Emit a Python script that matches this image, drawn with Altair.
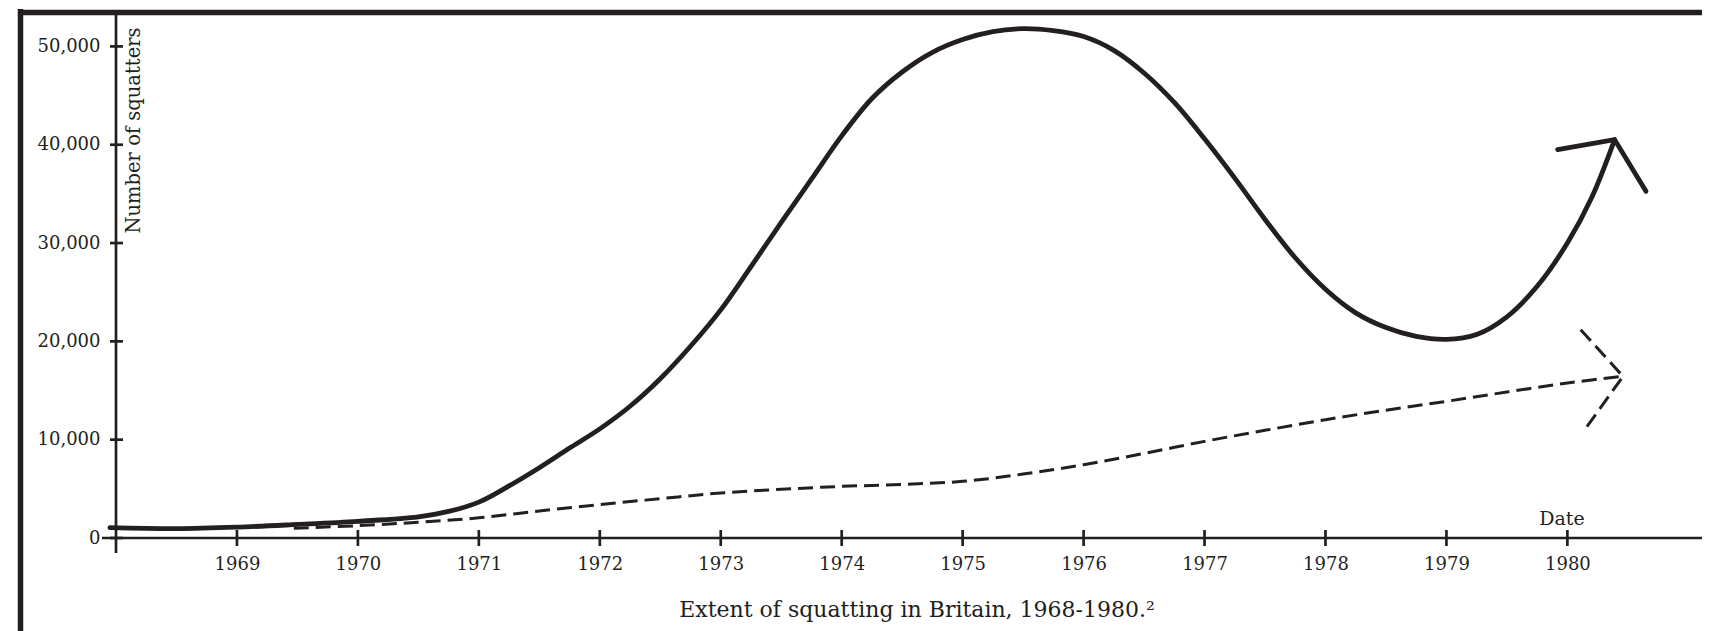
import altair as alt
import pandas as pd

# ---- data ----
solid_year = [1967.95, 1968.5, 1969.0, 1969.5, 1970.0, 1970.5, 1970.75, 1971.0, 1971.25, 1971.5,
              1971.75, 1972.0, 1972.25, 1972.5, 1972.75, 1973.0, 1973.25, 1973.5, 1973.75, 1974.0,
              1974.25, 1974.5, 1974.75, 1975.0, 1975.25, 1975.5, 1975.75, 1976.0, 1976.25, 1976.5,
              1976.75, 1977.0, 1977.25, 1977.5, 1977.75, 1978.0, 1978.25, 1978.5, 1978.75, 1979.0,
              1979.25, 1979.5, 1979.75, 1980.0, 1980.2, 1980.39]
solid_value = [1050, 950, 1100, 1380, 1700, 2150, 2700, 3650, 5300, 7150,
               9150, 11100, 13400, 16200, 19500, 23200, 27600, 32100, 36500, 40900,
               44700, 47400, 49400, 50700, 51500, 51800, 51600, 51000, 49600, 47300,
               44300, 40600, 36600, 32400, 28500, 25300, 22900, 21400, 20500, 20200,
               20700, 22500, 25600, 30000, 34600, 40500]

dash_year = [1969.47, 1970.0, 1970.5, 1971.0, 1971.5, 1972.0, 1972.5, 1973.0, 1973.5, 1974.0,
             1974.5, 1975.0, 1975.5, 1976.0, 1976.5, 1977.0, 1977.5, 1978.0, 1978.5, 1979.0,
             1979.5, 1980.0, 1980.46]
dash_value = [1000, 1250, 1600, 2050, 2750, 3400, 4000, 4580, 4950, 5250,
              5450, 5760, 6500, 7460, 8600, 9830, 10950, 12030, 13000, 13900,
              14850, 15770, 16440]

solid_head_year = [1979.92, 1980.39, 1980.65]
solid_head_value = [39500, 40520, 35260]
dash_head_year = [1980.11, 1980.46, 1980.14]
dash_head_value = [21190, 16440, 10950]

x_ticks = [1969, 1970, 1971, 1972, 1973, 1974, 1975, 1976, 1977, 1978, 1979, 1980]
y_ticks = [0, 10000, 20000, 30000, 40000, 50000]

y_title = "Number of squatters"
x_title = "Date"
caption = "Extent of squatting in Britain, 1968-1980.\u00b2"

# ---- layout ----
W, H = 1586, 526
INK = "#231f20"
FONT = "DejaVu Serif"

xscale = alt.Scale(domain=[1968, 1981.113], nice=False, zero=False)
yscale = alt.Scale(domain=[0, 53500], nice=False, zero=True)

xaxis = alt.Axis(values=x_ticks, format="d", labelFont=FONT, labelFontSize=18, labelColor=INK,
                 ticks=False, tickSize=0, domain=False, grid=False, labelPadding=17,
                 labelFlush=False, labelOverlap=False, title=None)
yaxis = alt.Axis(values=y_ticks, format=",d", labelFont=FONT, labelFontSize=18, labelColor=INK,
                 ticks=False, tickSize=0, domain=False, grid=False, labelPadding=16,
                 labelFlush=False, labelOverlap=False, title=None)


def X(field="year"):
    return alt.X(f"{field}:Q", scale=xscale, axis=xaxis)


def Y(field="value"):
    return alt.Y(f"{field}:Q", scale=yscale, axis=yaxis)


solid_df = pd.DataFrame({"year": solid_year, "value": solid_value})
dash_df = pd.DataFrame({"year": dash_year, "value": dash_value})
shead_df = pd.DataFrame({"year": solid_head_year, "value": solid_head_value, "i": [0, 1, 2]})
dhead_df = pd.DataFrame({"year": dash_head_year, "value": dash_head_value, "i": [0, 1, 2]})
xt_df = pd.DataFrame({"year": x_ticks})
yt_df = pd.DataFrame({"value": y_ticks})
one = pd.DataFrame({"a": [0]})

solid = alt.Chart(solid_df).mark_line(color=INK, strokeWidth=4.8, interpolate="catmull-rom",
                                      strokeCap="round").encode(x=X(), y=Y())
dashed = alt.Chart(dash_df).mark_line(color=INK, strokeWidth=3, interpolate="catmull-rom",
                                      strokeDash=[15, 7]).encode(x=X(), y=Y())
shead = alt.Chart(shead_df).mark_line(color=INK, strokeWidth=4.8, strokeCap="round",
                                      strokeJoin="miter").encode(x=X(), y=Y(), order="i:Q")
dhead = alt.Chart(dhead_df).mark_line(color=INK, strokeWidth=3, strokeDash=[15, 7],
                                      strokeJoin="miter").encode(x=X(), y=Y(), order="i:Q")

xt = alt.Chart(xt_df).mark_rule(color=INK, strokeWidth=2.7).encode(
    x=X(), y=alt.value(H - 8), y2=alt.value(H + 8))
yt = alt.Chart(yt_df).mark_rule(color=INK, strokeWidth=2.7).encode(
    y=Y(), x=alt.value(-6), x2=alt.value(7))

base1 = alt.Chart(one)
frame_left = base1.mark_rule(color=INK, strokeWidth=5.5).encode(
    x=alt.value(-95.5), y=alt.value(-3), y2=alt.value(H + 93))
frame_top = base1.mark_rule(color=INK, strokeWidth=5.5).encode(
    y=alt.value(0.5), x=alt.value(-98), x2=alt.value(W))
yaxis_line = base1.mark_rule(color=INK, strokeWidth=2.7).encode(
    x=alt.value(0), y=alt.value(2), y2=alt.value(H + 15))
xaxis_line = base1.mark_rule(color=INK, strokeWidth=2.7).encode(
    y=alt.value(H), x=alt.value(-14), x2=alt.value(W))

ytitle = base1.mark_text(font=FONT, fontSize=19.5, color=INK, angle=270, align="center",
                         baseline="alphabetic").encode(
    x=alt.value(24), y=alt.value(118.5), text=alt.value(y_title))
xtitle = base1.mark_text(font=FONT, fontSize=19, color=INK, align="center",
                         baseline="alphabetic").encode(
    x=alt.value(1446), y=alt.value(512.7), text=alt.value(x_title))
cap = base1.mark_text(font=FONT, fontSize=22, color=INK, align="center",
                      baseline="alphabetic").encode(
    x=alt.value(801), y=alt.value(605), text=alt.value(caption))

chart = alt.layer(
    solid, dashed, shead, dhead, xt, yt,
    frame_left, frame_top, yaxis_line, xaxis_line, ytitle, xtitle, cap
).properties(
    width=W, height=H,
    padding={"left": 108, "top": 4, "right": 0, "bottom": 93},
    autosize=alt.AutoSizeParams(type="none"),
    background="white",
).configure_view(stroke=None)

chart.save("out.html", embed_options={"renderer": "svg", "actions": False})
